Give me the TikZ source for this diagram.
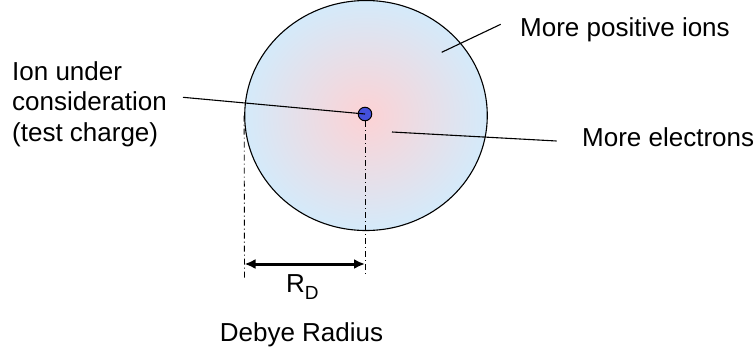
\documentclass[tikz,border=0pt]{standalone}
\usepackage{fontspec}
\setmainfont{Liberation Sans}
\usetikzlibrary{shapes.geometric,arrows.meta}
\definecolor{edgeblue}{RGB}{212,234,250}
\definecolor{centerpink}{RGB}{253,210,212}
\definecolor{dotblue}{RGB}{68,80,220}
\begin{document}
\begin{tikzpicture}[x=1pt,y=-1pt,
  every node/.style={font=\fontsize{26}{30.5}\selectfont, inner sep=0pt},
  leader/.style={line width=1.1pt},
  dimline/.style={line width=0.9pt, dash pattern=on 6pt off 3pt on 1pt off 3pt},
  dimarrow/.style={line width=3pt, {Latex[length=11pt,width=10pt]}-{Latex[length=11pt,width=10pt]}}]
\useasboundingbox (0,0) rectangle (755,354);
% sphere
\node[draw, ellipse, line width=1.1pt, minimum width=242.6pt, minimum height=230pt,
      inner color=centerpink, outer color=edgeblue] (sphere) at (366,115.5) {};
% test charge
\node[circle, draw, fill=dotblue, minimum size=13.5pt, line width=1pt] (ion) at (365,114) {};
% labels
\node[anchor=north west, align=left] (ionlbl) at (12,61) {Ion under\\consideration\\(test charge)};
\node[anchor=base west] (poslbl) at (520,36.5) {More positive ions};
\node[anchor=base west] (ellbl) at (582,146.5) {More electrons};
\node[anchor=base west] (rd) at (286,292.7) {R\raisebox{-7pt}{\fontsize{19}{19}\selectfont D}};
\node[anchor=base] (debye) at (301.5,341.5) {Debye Radius};
% leader lines
\coordinate (ionend) at (183,97.3);
\draw[leader] (ionend) -- (ion.center);
\coordinate (posA) at (441.7,52.3);
\coordinate (posB) at (500.7,24.3);
\draw[leader] (posA) -- (posB);
\coordinate (elA) at (392,132);
\coordinate (elB) at (556.7,141);
\draw[leader] (elA) -- (elB);
% dimension lines
\coordinate (lbot) at (244.5,278);
\coordinate (rbot) at (365,276);
\draw[dimline] (sphere.west) -- (lbot);
\draw[dimline] (ion.south) -- (rbot);
\coordinate (aL) at (244.5,264);
\coordinate (aR) at (365,264);
\draw[dimarrow] (aL) -- (aR);
\end{tikzpicture}
\end{document}
